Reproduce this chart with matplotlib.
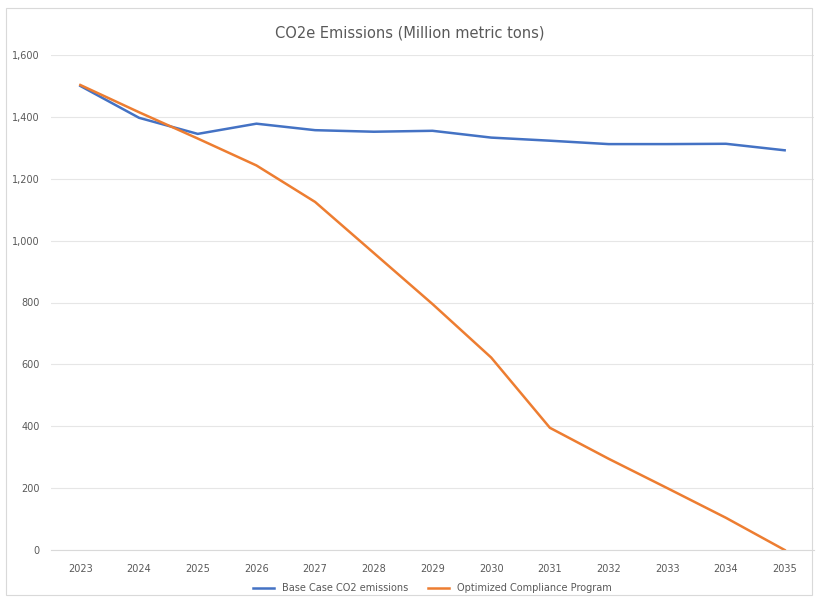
import matplotlib
matplotlib.use("Agg")
import matplotlib.pyplot as plt
from matplotlib.patches import Rectangle
from matplotlib.ticker import FuncFormatter

years = ["2023", "2024", "2025", "2026", "2027", "2028", "2029",
         "2030", "2031", "2032", "2033", "2034", "2035"]
base_case = [1500, 1397, 1345, 1378, 1357, 1352, 1355, 1333, 1323, 1312, 1312, 1313, 1292]
optimized = [1503, 1415, 1330, 1243, 1125, 960, 795, 622, 395, 295, 200, 104, 0]

plt.rcParams['font.family'] = ['Liberation Sans Narrow', 'DejaVu Sans']

fig = plt.figure(figsize=(8.19, 5.99), dpi=100)
ax = fig.add_axes([51 / 819, 1 - 550 / 599, 763 / 819, 495 / 599])

# chart border
fig.patches.append(Rectangle((6 / 819, 1 - 595 / 599), 806 / 819, 587 / 599,
                             transform=fig.transFigure, fill=False,
                             edgecolor="#d9d9d9", linewidth=0.8))

x = list(range(len(years)))
ax.plot(x, base_case, color="#4472C4", linewidth=1.8, label="Base Case CO2 emissions")
ax.plot(x, optimized, color="#ED7D31", linewidth=1.8, label="Optimized Compliance Program")

ax.set_xlim(-0.5, len(years) - 0.5)
ax.set_ylim(0, 1600)
ax.set_xticks(x)
ax.set_xticklabels(years)
ax.set_yticks(range(0, 1601, 200))
ax.yaxis.set_major_formatter(FuncFormatter(lambda v, p: f"{int(v):,}"))

ax.grid(axis="y", color="#e6e6e6", linewidth=0.8)
ax.set_axisbelow(True)
for s in ["top", "right", "left"]:
    ax.spines[s].set_visible(False)
ax.spines["bottom"].set_color("#d9d9d9")
ax.tick_params(axis="both", length=0, labelsize=7, labelcolor="#595959")
ax.tick_params(axis="x", pad=10)
ax.tick_params(axis="y", pad=8)

fig.text(0.5, 1 - 33 / 599, "CO2e Emissions (Million metric tons)", ha="center", va="center",
         fontsize=10.5, color="#595959")

ax.legend(loc="center", bbox_to_anchor=(0.5, -38 / 495), ncol=2, frameon=False,
          fontsize=7, labelcolor="#595959", handlelength=2.2, columnspacing=2)

fig.savefig("out.png", dpi=100)
